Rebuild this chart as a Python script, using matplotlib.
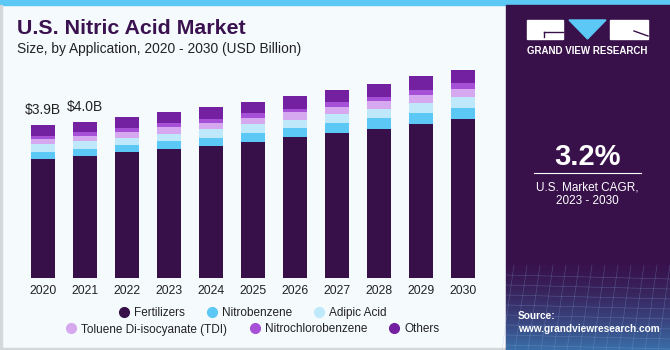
import numpy as np
import matplotlib.pyplot as plt
from matplotlib.patches import Rectangle, Polygon
from matplotlib.lines import Line2D

plt.rcParams["font.family"] = ["Liberation Sans", "DejaVu Sans"]

years = ["2020", "2021", "2022", "2023", "2024", "2025", "2026", "2027", "2028", "2029", "2030"]
segments = ["Fertilizers", "Nitrobenzene", "Adipic Acid",
            "Toluene Di-isocyanate (TDI)", "Nitrochlorobenzene", "Others"]
fertilizers = [3.04, 3.12, 3.21, 3.29, 3.38, 3.48, 3.60, 3.71, 3.81, 3.94, 4.06]
nitrobenzene = [0.19, 0.18, 0.19, 0.20, 0.20, 0.22, 0.23, 0.25, 0.27, 0.28, 0.29]
adipic_acid = [0.20, 0.20, 0.18, 0.20, 0.23, 0.23, 0.21, 0.24, 0.24, 0.26, 0.27]
tdi = [0.13, 0.135, 0.15, 0.17, 0.15, 0.17, 0.19, 0.18, 0.20, 0.20, 0.21]
nitrochlorobenzene = [0.08, 0.085, 0.10, 0.09, 0.11, 0.11, 0.10, 0.12, 0.10, 0.12, 0.14]
others = [0.28, 0.27, 0.28, 0.29, 0.30, 0.29, 0.32, 0.31, 0.34, 0.35, 0.34]
total_labels = ["$3.9B", "$4.0B"]

colors = ["#37104a", "#5bc8f5", "#bfe9fb", "#d6a8ef", "#a650d8", "#7321a0"]
bg = "#f5fafd"
panel = "#38104a"

W, H = 670, 350
fig = plt.figure(figsize=(6.7, 3.5), dpi=100, facecolor=bg)

# pixel overlay for decorations
deco = fig.add_axes([0, 0, 1, 1], zorder=0)
deco.set_xlim(0, W)
deco.set_ylim(H, 0)
deco.axis("off")
deco.add_patch(Rectangle((0, 0), W, 5, color="#5bc8f5"))
deco.add_patch(Rectangle((0, 5), 1.5, H, color="#d3d8db"))
deco.add_patch(Rectangle((0, 347.5), 506, 2.5, color="#d3d8db"))
deco.add_patch(Rectangle((506, 5), W - 506, H - 5, color=panel))

# gradient at bottom of right panel
grad = np.linspace(0, 1, 100)[:, None]
c0 = np.array([0x38, 0x10, 0x4a]) / 255
c1 = np.array([0x3a, 0x6e, 0xa8]) / 255
img = c0 + (c1 - c0) * grad[..., None] ** 1.6
img = np.repeat(img, 2, axis=1)
deco.imshow(img, extent=(506, W, H, 255), aspect="auto", zorder=1)
for k in range(8):
    yy = 275 + k * 10
    deco.plot([506, W], [yy, yy + 4], color="#8fb3e0", lw=0.4, alpha=0.35, zorder=2)
for k in range(14):
    xx = 506 + k * 13
    deco.plot([xx + 8, xx - 4], [265, H], color="#8fb3e0", lw=0.4, alpha=0.35, zorder=2)

# logo
deco.add_patch(Rectangle((527, 20), 36, 19, color="white", zorder=3))
deco.add_patch(Polygon([(569, 20), (606, 20), (587.5, 39)], color="#5bc8f5", zorder=3))
deco.add_patch(Rectangle((610, 20), 38, 19, color="white", zorder=3))
deco.plot([544, 563], [32, 32], color=panel, lw=1.0, zorder=4)
deco.plot([544, 544], [32, 37], color=panel, lw=1.0, zorder=4)
deco.plot([634, 648], [31, 36], color=panel, lw=1.0, zorder=4)
deco.text(587.5, 51, "GRAND VIEW RESEARCH", color="white", fontsize=7.0,
          fontweight="bold", ha="center", va="center", zorder=4)

deco.text(587.5, 157, "3.2%", color="white", fontsize=21, fontweight="bold",
          ha="center", va="center", zorder=4)
deco.plot([534, 641], [173, 173], color="white", lw=0.8, zorder=4)
deco.text(587.5, 187, "U.S. Market CAGR,", color="white", fontsize=8.5,
          ha="center", va="center", zorder=4)
deco.text(587.5, 201, "2023 - 2030", color="white", fontsize=8.5,
          ha="center", va="center", zorder=4)
deco.text(518, 316, "Source:", color="white", fontsize=7.3, fontweight="bold",
          ha="left", va="center", zorder=4)
deco.text(518, 329, "www.grandviewresearch.com", color="white", fontsize=7.3,
          fontweight="bold", ha="left", va="center", zorder=4)

deco.text(17, 29, "U.S. Nitric Acid Market", color="#3a1250", fontsize=15.4,
          fontweight="bold", ha="left", va="center")
deco.text(17, 49, "Size, by Application, 2020 - 2030 (USD Billion)", color="#222222",
          fontsize=9.9, ha="left", va="center")

# bar chart
left_px, right_px = 43 - 0.8 * 42, 463 + 0.8 * 42
base_px, ppb = 278.3, 39.2
ax = fig.add_axes([left_px / W, (H - base_px) / H, (right_px - left_px) / W, 6 * ppb / H],
                  zorder=2)
ax.patch.set_alpha(0)
x = np.arange(len(years))
series = [fertilizers, nitrobenzene, adipic_acid, tdi, nitrochlorobenzene, others]
bottom = np.zeros(len(years))
for name, vals, col in zip(segments, series, colors):
    ax.bar(x, vals, bottom=bottom, width=0.57, color=col, label=name)
    bottom += np.array(vals)

for i, lab in enumerate(total_labels):
    ax.text(x[i], bottom[i] + 0.2, lab, ha="center", va="bottom", fontsize=10, color="#222222")

ax.set_xlim(-0.8, 10.8)
ax.set_ylim(0, 6)
ax.set_xticks(x)
ax.set_xticklabels(years, fontsize=8.8, color="#222222")
ax.tick_params(axis="x", length=0, pad=5)
ax.set_yticks([])
for s in ax.spines.values():
    s.set_visible(False)

handles = [Line2D([], [], marker="o", ls="", markersize=7, color=c) for c in colors]
leg_kw = dict(frameon=False, fontsize=8.5, handlelength=0.8, handletextpad=0.45,
              columnspacing=1.9, labelcolor="#222222", loc="center")
fig.legend(handles[:3], segments[:3], ncol=3, bbox_to_anchor=(253 / W, 1 - 313 / H), **leg_kw)
fig.legend(handles[3:], segments[3:], ncol=3, bbox_to_anchor=(253 / W, 1 - 329.5 / H), **leg_kw)

fig.savefig("out.png", dpi=100, facecolor=bg)
